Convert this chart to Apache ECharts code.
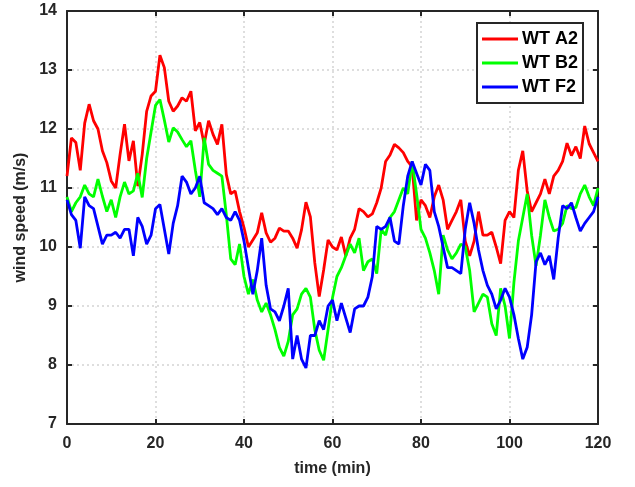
<!DOCTYPE html>
<html>
<head>
<meta charset="utf-8">
<script src="https://cdn.jsdelivr.net/npm/echarts@6/dist/echarts.min.js"></script>
<style>
html,body{margin:0;padding:0;background:#fff;}
#chart{width:635px;height:487px;}
</style>
</head>
<body>
<div id="chart"></div>
<script>
var times = [0,1,2,3,4,5,6,7,8,9,10,11,12,13,14,15,16,17,18,19,20,21,22,23,24,25,26,27,28,29,30,31,32,33,34,35,36,37,38,39,40,41,42,43,44,45,46,47,48,49,50,51,52,53,54,55,56,57,58,59,60,61,62,63,64,65,66,67,68,69,70,71,72,73,74,75,76,77,78,79,80,81,82,83,84,85,86,87,88,89,90,91,92,93,94,95,96,97,98,99,100,101,102,103,104,105,106,107,108,109,110,111,112,113,114,115,116,117,118,119,120];

var wtA2 = [11.2,11.85,11.77,11.3,12.1,12.42,12.14,12.0,11.63,11.43,11.12,11.0,11.57,12.08,11.46,11.8,11.03,11.57,12.3,12.56,12.64,13.25,13.04,12.47,12.3,12.39,12.53,12.47,12.64,11.97,12.11,11.74,12.14,11.91,11.74,12.08,11.23,10.9,10.95,10.6,10.33,10.0,10.12,10.24,10.58,10.24,10.08,10.15,10.32,10.27,10.27,10.15,9.98,10.29,10.76,10.51,9.73,9.16,9.61,10.12,10.0,9.95,10.17,9.85,10.15,10.3,10.65,10.6,10.51,10.56,10.75,11.0,11.45,11.56,11.74,11.68,11.6,11.45,11.36,10.45,10.8,10.7,10.5,10.85,11.05,10.8,10.3,10.45,10.6,10.8,10.1,9.85,10.1,10.6,10.2,10.2,10.25,10.0,9.72,10.45,10.6,10.5,11.3,11.63,10.95,10.6,10.75,10.9,11.15,10.9,11.2,11.3,11.45,11.76,11.55,11.7,11.5,12.05,11.75,11.6,11.45];

var wtB2 = [10.85,10.6,10.75,10.85,11.05,10.9,10.85,11.15,10.86,10.6,10.8,10.5,10.85,11.1,10.9,10.95,11.25,10.84,11.5,11.95,12.4,12.5,12.15,11.78,12.02,11.95,11.82,11.7,11.8,11.3,10.85,11.85,11.4,11.3,11.25,11.2,10.55,9.8,9.7,10.05,9.5,9.2,9.45,9.1,8.9,9.05,8.85,8.6,8.3,8.15,8.4,8.85,8.95,9.2,9.3,9.15,8.6,8.25,8.08,8.6,9.14,9.5,9.65,9.85,10.05,9.9,10.15,9.6,9.75,9.8,9.55,10.3,10.2,10.5,10.6,10.8,11.0,10.9,11.45,10.9,10.3,10.15,9.9,9.6,9.2,10.2,9.95,9.8,9.9,10.05,10.0,9.6,8.9,9.05,9.2,9.15,8.7,8.5,9.3,9.0,8.45,9.4,10.1,10.5,10.9,10.2,9.68,10.2,10.8,10.5,10.27,10.3,10.4,10.7,10.65,10.67,10.9,11.05,10.85,10.7,11.0];

var wtF2 = [10.8,10.55,10.45,9.98,10.85,10.7,10.65,10.35,10.05,10.2,10.2,10.25,10.15,10.3,10.3,9.85,10.5,10.35,10.05,10.2,10.65,10.72,10.3,9.88,10.4,10.7,11.2,11.1,10.9,11.0,11.2,10.75,10.7,10.65,10.55,10.65,10.5,10.45,10.6,10.45,10.1,9.65,9.2,9.6,10.15,9.35,8.95,8.9,8.75,9.0,9.3,8.1,8.5,8.1,7.95,8.5,8.5,8.75,8.6,9.0,9.1,8.75,9.05,8.8,8.55,8.95,9.0,9.0,9.15,9.5,10.35,10.3,10.35,10.5,10.1,10.05,10.7,11.2,11.45,11.25,11.05,11.4,11.3,10.6,10.35,10.0,9.65,9.65,9.6,9.55,10.3,10.75,10.4,9.95,9.6,9.35,9.2,8.95,9.1,9.3,9.15,8.85,8.45,8.1,8.3,8.85,9.75,9.9,9.7,9.85,9.45,10.15,10.7,10.65,10.75,10.5,10.27,10.4,10.5,10.6,10.85];

var seriesNames = ['WT A2','WT B2','WT F2'];
var seriesColors = ['#ff0000','#00ff00','#0000ff'];
var xTicks = [0,20,40,60,80,100,120];
var yTicks = [7,8,9,10,11,12,13,14];

function pairs(vals){ return times.map(function(t,i){ return [t, vals[i]]; }); }

var FONT = 'Liberation Sans';
var axisColor = '#262626';
var chart = echarts.init(document.getElementById('chart'), null, {renderer:'canvas'});

var lbl = {color:'#262626', fontFamily:FONT, fontWeight:'bold', fontSize:16};

chart.setOption({
  animation:false,
  backgroundColor:'#ffffff',
  grid:{left:67, right:37, top:11, bottom:63, containLabel:false},
  legend:{
    right:52, top:23, orient:'vertical',
    data:seriesNames,
    icon:'rect', itemWidth:36, itemHeight:3, itemGap:6,
    borderColor:'#262626', borderWidth:2, backgroundColor:'#fff',
    padding:[7,5,7,5],
    textStyle:{color:'#000', fontFamily:FONT, fontWeight:'bold', fontSize:18, padding:[0,0,0,-1]}
  },
  xAxis:[{
    type:'value', min:0, max:120, interval:20, position:'bottom',
    name:'time (min)', nameLocation:'middle', nameGap:37,
    nameTextStyle:lbl,
    axisLine:{show:true, onZero:false, lineStyle:{color:axisColor, width:2}},
    axisTick:{show:true, inside:true, length:5, lineStyle:{color:axisColor, width:2}},
    axisLabel:Object.assign({margin:12, formatter:function(v){return xTicks.indexOf(v)>=0?String(v):'';}}, lbl),
    splitLine:{show:true, lineStyle:{color:'#d4d4d4', width:1.5, type:[2,3]}}
  },{
    type:'value', min:0, max:120, interval:20, position:'top',
    axisLine:{show:true, onZero:false, lineStyle:{color:axisColor, width:2}},
    axisTick:{show:true, inside:true, length:5, lineStyle:{color:axisColor, width:2}},
    axisLabel:{show:false}, splitLine:{show:false}
  }],
  yAxis:[{
    type:'value', min:7, max:14, interval:1, position:'left',
    name:'wind speed (m/s)', nameLocation:'middle', nameGap:38, nameRotate:90,
    nameTextStyle:lbl,
    axisLine:{show:true, onZero:false, lineStyle:{color:axisColor, width:2}},
    axisTick:{show:true, inside:true, length:5, lineStyle:{color:axisColor, width:2}},
    axisLabel:Object.assign({margin:10, formatter:function(v){return yTicks.indexOf(v)>=0?String(v):'';}}, lbl),
    splitLine:{show:true, lineStyle:{color:'#d4d4d4', width:1.5, type:[2,3]}}
  },{
    type:'value', min:7, max:14, interval:1, position:'right',
    axisLine:{show:true, onZero:false, lineStyle:{color:axisColor, width:2}},
    axisTick:{show:true, inside:true, length:5, lineStyle:{color:axisColor, width:2}},
    axisLabel:{show:false}, splitLine:{show:false}
  }],
  series:[
    {name:seriesNames[0], type:'line', data:pairs(wtA2), showSymbol:false, symbol:'none', color:seriesColors[0], lineStyle:{width:2.8, color:seriesColors[0]}, z:3},
    {name:seriesNames[1], type:'line', data:pairs(wtB2), showSymbol:false, symbol:'none', color:seriesColors[1], lineStyle:{width:2.8, color:seriesColors[1]}, z:4},
    {name:seriesNames[2], type:'line', data:pairs(wtF2), showSymbol:false, symbol:'none', color:seriesColors[2], lineStyle:{width:2.8, color:seriesColors[2]}, z:5}
  ]
});
</script>
</body>
</html>
